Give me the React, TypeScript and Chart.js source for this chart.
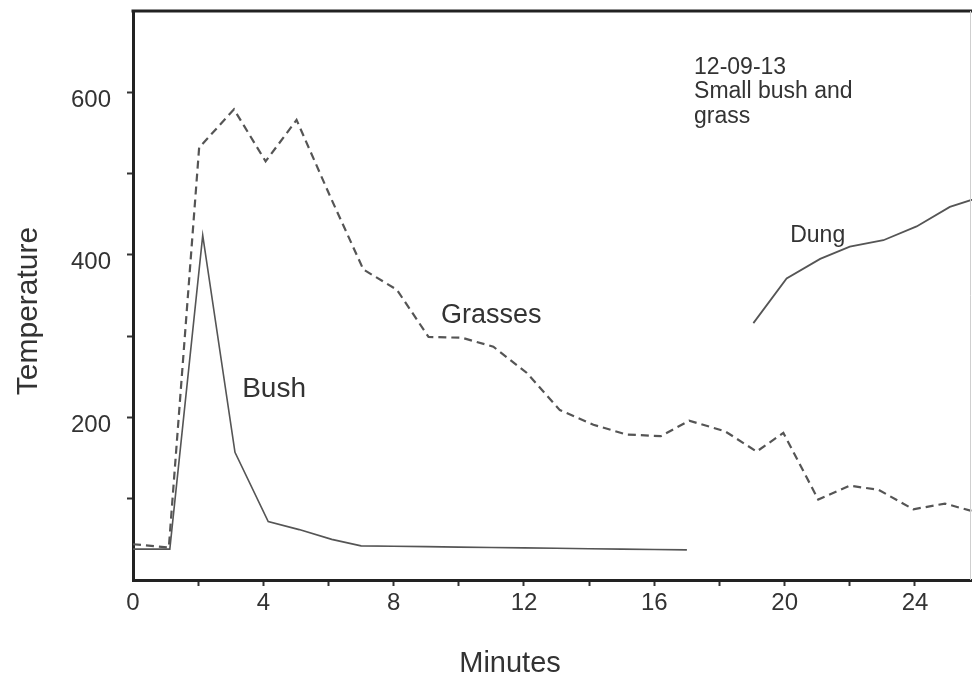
import React, { useEffect, useRef } from 'react';
import { Chart, registerables } from 'chart.js';

Chart.register(...registerables);

// ---- data ----
const bushMinutes = [0, 1.13, 2.14, 3.13, 4.15, 5.1, 6.1, 7.0, 8, 9, 10, 11, 12, 13, 14, 15, 16, 17];
const bushTemps = [38, 38, 424, 157, 72, 62, 50, 42, 41.5, 41, 40.5, 40, 39.5, 39, 38.5, 38, 37.5, 37];

const grassMinutes = [0, 1.1, 2.03, 3.1, 4.07, 5.02, 6.05, 7.07, 8.1, 9.07, 10.1, 11.06, 12.08, 13.1, 14.13, 15.15, 16.2, 17.07, 18.17, 19.14, 19.96, 21.03, 22.0, 22.88, 23.95, 24.92, 26];
const grassTemps = [44, 40, 532, 579, 515, 566, 472, 382, 357, 299, 298, 287, 255, 209, 191, 179, 177, 196, 183, 158, 181, 99, 116, 111, 87, 94, 82];

const dungMinutes = [19.04, 20.06, 21.09, 22.0, 23.03, 24.05, 25.07, 26];
const dungTemps = [316, 371, 395, 410, 418, 435, 459, 471];

const xLabelValues = [0, 4, 8, 12, 16, 20, 24];
const yLabelValues = [200, 400, 600];

const noteLines = ['12-09-13', 'Small bush and', 'grass'];
const seriesLabels = [
  { text: 'Grasses', x: 9.45, y: 316, size: 27 },
  { text: 'Bush', x: 3.35, y: 225, size: 28 },
  { text: 'Dung', x: 20.17, y: 416, size: 23 },
];
const noteAt = { x: 17.22, y: 623 };

const FONT = "'Liberation Sans', Arial, Helvetica, sans-serif";
const TEXT = '#333';
const AXIS = '#222';

const toXY = (xs: number[], ys: number[]) => xs.map((x, i) => ({ x, y: ys[i] }));

const overlay = {
  id: 'overlay',
  afterDraw(chart: any) {
    const { ctx, chartArea: a, scales } = chart;
    const xs = scales.x;
    const ys = scales.y;
    ctx.save();
    // top frame line
    ctx.strokeStyle = AXIS;
    ctx.lineWidth = 3;
    ctx.beginPath();
    ctx.moveTo(a.left - 1.5, a.top);
    ctx.lineTo(a.right, a.top);
    ctx.stroke();
    // faint right edge
    ctx.strokeStyle = '#cfcfcf';
    ctx.lineWidth = 1;
    ctx.beginPath();
    ctx.moveTo(a.right - 1.5, a.top);
    ctx.lineTo(a.right - 1.5, a.bottom);
    ctx.stroke();

    ctx.fillStyle = TEXT;
    ctx.textAlign = 'left';
    ctx.textBaseline = 'alphabetic';
    for (const l of seriesLabels) {
      ctx.font = `${l.size}px ${FONT}`;
      ctx.fillText(l.text, xs.getPixelForValue(l.x), ys.getPixelForValue(l.y));
    }
    ctx.font = `23px ${FONT}`;
    const nx = xs.getPixelForValue(noteAt.x);
    const ny = ys.getPixelForValue(noteAt.y);
    noteLines.forEach((t, i) => ctx.fillText(t, nx, ny + i * 24.5));

    // axis titles
    ctx.textAlign = 'center';
    ctx.font = `29px ${FONT}`;
    ctx.fillText('Minutes', a.left + 377, a.bottom + 92);
    ctx.save();
    ctx.translate(a.left - 96, a.top + 300);
    ctx.rotate(-Math.PI / 2);
    ctx.font = `30px ${FONT}`;
    ctx.fillText('Temperature', 0, 0);
    ctx.restore();
    ctx.restore();
  },
};

export default function App() {
  const ref = useRef<HTMLCanvasElement>(null);

  useEffect(() => {
    if (!ref.current) return;
    const chart = new Chart(ref.current, {
      type: 'line',
      data: {
        datasets: [
          {
            label: 'Bush',
            data: toXY(bushMinutes, bushTemps),
            borderColor: '#555',
            borderWidth: 1.6,
            pointRadius: 0,
            tension: 0,
          },
          {
            label: 'Grasses',
            data: toXY(grassMinutes, grassTemps),
            borderColor: '#555',
            borderWidth: 2.2,
            borderDash: [8, 5],
            pointRadius: 0,
            tension: 0,
          },
          {
            label: 'Dung',
            data: toXY(dungMinutes, dungTemps),
            borderColor: '#555',
            borderWidth: 1.8,
            pointRadius: 0,
            tension: 0,
          },
        ],
      },
      options: {
        animation: false,
        responsive: true,
        maintainAspectRatio: false,
        layout: { padding: { top: 11, left: 0, right: 0, bottom: 0 } },
        plugins: { legend: { display: false }, tooltip: { enabled: false } },
        scales: {
          x: {
            type: 'linear',
            min: 0,
            max: 25.75,
            afterFit: (s: any) => {
              s.height = 100;
              s.paddingLeft = 0;
              s.paddingRight = 0;
            },
            border: { display: true, color: AXIS, width: 3 },
            grid: {
              drawOnChartArea: false,
              drawTicks: true,
              tickLength: 6,
              tickWidth: 2,
              tickColor: (c: any) => (c.tick && c.tick.value === 0 ? 'rgba(0,0,0,0)' : '#333'),
            },
            ticks: {
              stepSize: 2,
              includeBounds: false,
              autoSkip: false,
              maxRotation: 0,
              padding: 3,
              color: TEXT,
              font: { family: FONT, size: 24 },
              callback: (v: any) => (xLabelValues.includes(Number(v)) ? String(v) : ''),
            },
          },
          y: {
            type: 'linear',
            min: 0,
            max: 700,
            afterFit: (s: any) => {
              s.width = 133;
              s.paddingTop = 0;
              s.paddingBottom = 0;
            },
            afterBuildTicks: (s: any) => {
              s.ticks = s.ticks.filter((t: any) => t.value > 0 && t.value < 700);
            },
            border: { display: true, color: AXIS, width: 3 },
            grid: {
              drawOnChartArea: false,
              drawTicks: true,
              tickLength: 6,
              tickWidth: 2,
              tickColor: '#333',
            },
            ticks: {
              stepSize: 100,
              autoSkip: false,
              padding: 16,
              labelOffset: 8,
              color: TEXT,
              font: { family: FONT, size: 24 },
              callback: (v: any) => (yLabelValues.includes(Number(v)) ? String(v) : ''),
            },
          },
        },
      },
      plugins: [overlay],
    } as any);
    return () => chart.destroy();
  }, []);

  return (
    <div style={{ position: 'absolute', left: 0, top: 0, width: 972, height: 680, background: '#fff' }}>
      <canvas ref={ref} />
    </div>
  );
}
